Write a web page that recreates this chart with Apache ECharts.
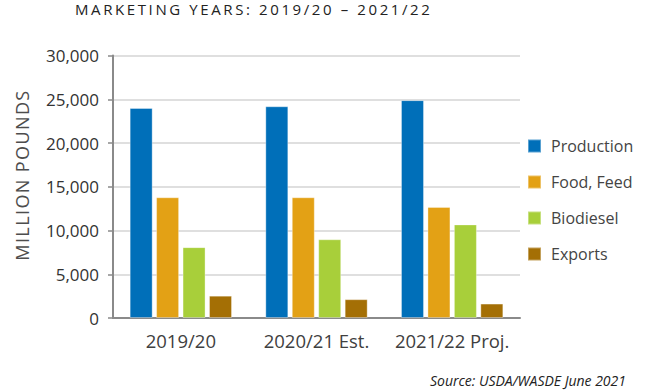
<!DOCTYPE html>
<html>
<head>
<meta charset="utf-8">
<script src="https://cdn.jsdelivr.net/npm/echarts@6/dist/echarts.min.js"></script>
<style>
html,body{margin:0;padding:0;background:#fff;}
#main{width:650px;height:392px;}
</style>
</head>
<body>
<div id="main"></div>
<script>
var categories = ['2019/20', '2020/21 Est.', '2021/22 Proj.'];
var seriesNames = ['Production', 'Food, Feed', 'Biodiesel', 'Exports'];
var production = [24000, 24200, 24900];
var foodFeed = [13800, 13800, 12700];
var biodiesel = [8100, 9000, 10700];
var exportsData = [2550, 2150, 1650];
var yTicks = [0, 5000, 10000, 15000, 20000, 25000, 30000];
var titleText = 'MARKETING YEARS: 2019/20 \u2013 2021/22';
var yAxisTitle = 'MILLION POUNDS';
var sourceText = 'Source: USDA/WASDE June 2021';

var colors = ['#006FB9', '#E3A115', '#A8CF3A', '#A46F05'];
var values = [production, foodFeed, biodiesel, exportsData];

var chart = echarts.init(document.getElementById('main'), null, {renderer: 'svg'});
var font = '"Open Sans", sans-serif';

var series = seriesNames.map(function (n, i) {
  return {
    name: n,
    type: 'bar',
    data: values[i],
    barWidth: 23,
    barGap: '15%',
    itemStyle: {color: colors[i], borderColor: 'rgba(255,255,255,0.35)', borderWidth: 1},
    emphasis: {disabled: true}
  };
});

chart.setOption({
  animation: false,
  color: colors,
  textStyle: {fontFamily: font},
  title: [
    {text: titleText, left: 75, top: 0, padding: 0,
     textStyle: {fontFamily: font, fontSize: 15, fontWeight: 'normal', color: '#222', lineHeight: 18}},
    {text: sourceText, right: 24, top: 372, padding: 0,
     textStyle: {fontFamily: font, fontSize: 14, fontStyle: 'italic', fontWeight: 'normal', color: '#222', lineHeight: 16}}
  ],
  graphic: [{
    type: 'text', x: 21.5, y: 175, rotation: Math.PI / 2,
    style: {text: yAxisTitle, fontFamily: font, fontSize: 18, fill: '#4d4d4d', align: 'center', verticalAlign: 'middle'}
  }],
  legend: {
    data: seriesNames, orient: 'vertical', left: 527, top: 138, padding: 0,
    itemWidth: 13, itemHeight: 13, itemGap: 20, icon: 'rect',
    textStyle: {fontFamily: font, fontSize: 16, lineHeight: 16, color: '#444', padding: [0, 0, 0, 5]}
  },
  grid: {left: 113, right: 130, top: 55.5, bottom: 74},
  xAxis: {
    type: 'category', data: categories,
    axisLine: {lineStyle: {color: '#8a8a8a', width: 2}},
    axisTick: {show: false},
    axisLabel: {fontFamily: font, fontSize: 18.5, color: '#404040', margin: 13, interval: 0, hideOverlap: false}
  },
  yAxis: {
    type: 'value', min: yTicks[0], max: yTicks[yTicks.length - 1], interval: yTicks[1] - yTicks[0],
    axisLine: {show: true, lineStyle: {color: '#8a8a8a', width: 2}},
    axisTick: {show: true, length: 5, lineStyle: {color: '#8a8a8a', width: 1.5}},
    splitLine: {lineStyle: {color: '#d4d4d4', width: 1.5}},
    axisLabel: {fontFamily: font, fontSize: 17, color: '#333', margin: 14,
      formatter: function (v) { return v.toLocaleString('en-US'); }}
  },
  series: series
});

function spaceText() {
  var texts = document.querySelectorAll('#main svg text');
  texts.forEach(function (t) {
    var c = t.textContent;
    if (c === titleText) { t.setAttribute('letter-spacing', '2.6px'); t.style.letterSpacing = '2.6px'; }
    if (c === yAxisTitle) { t.setAttribute('letter-spacing', '1.4px'); t.style.letterSpacing = '1.4px'; }
  });
}
spaceText();
chart.on('finished', spaceText);
setTimeout(spaceText, 0);
</script>
</body>
</html>
